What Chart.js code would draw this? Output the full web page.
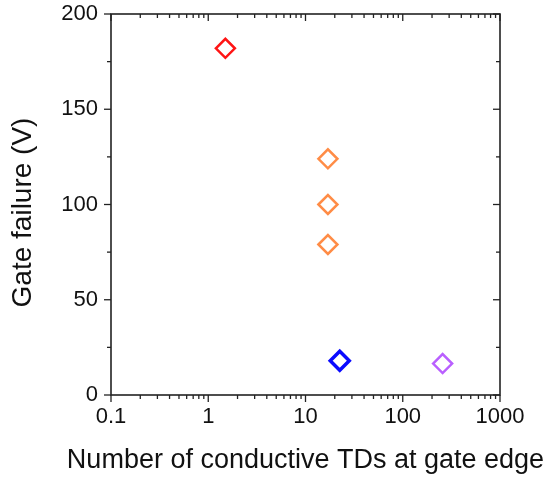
<!DOCTYPE html>
<html>
<head>
<meta charset="utf-8">
<script src="https://cdn.jsdelivr.net/npm/chart.js@4"></script>
<style>
  html, body { margin: 0; padding: 0; background: #fff; }
  #wrap { width: 544px; height: 478px; }
</style>
</head>
<body>
<div id="wrap"><canvas id="chart" width="544" height="478"></canvas></div>
<script>
// Values
const redX = [1.5];
const redY = [182];
const orangeX = [17, 17, 17];
const orangeY = [124, 100, 79];
const blueX = [22.5];
const blueY = [18];
const purpleX = [257];
const purpleY = [16.5];

// Axis ticks and titles
const xDecades = [0.1, 1, 10, 100, 1000];
const yMajorTicks = [0, 50, 100, 150, 200];
const yMinorTicks = [25, 75, 125, 175];
const xTitle = 'Number of conductive TDs at gate edge';
const yTitle = 'Gate failure (V)';

const FONT = "'Liberation Sans', Arial, sans-serif";
const INK = '#111';

// minor log ticks 2..9 inside each decade
const xMinorTicks = [];
xDecades.slice(0, -1).forEach(d => {
  for (let m = 2; m <= 9; m++) xMinorTicks.push(d * m);
});

const makeSet = (xs, ys, color, width) => ({
  data: xs.map((x, i) => ({ x, y: ys[i] })),
  pointStyle: 'rectRot',
  pointRadius: 9.5,
  pointHoverRadius: 9.5,
  borderColor: color,
  backgroundColor: 'rgba(0,0,0,0)',
  borderWidth: width,
  showLine: false
});

// frame with ticks on all four sides, plus both axis titles
// (Chart.js squeezes axis titles to the axis length, the x one is wider)
const frameTicks = {
  id: 'frameTicks',
  afterDraw(chart) {
    const { ctx, chartArea: a, scales: { x, y } } = chart;
    ctx.save();
    ctx.strokeStyle = '#222';
    ctx.lineWidth = 1.6;
    ctx.strokeRect(a.left, a.top, a.right - a.left, a.bottom - a.top);
    ctx.lineWidth = 1.3;
    const line = (x1, y1, x2, y2) => {
      ctx.beginPath();
      ctx.moveTo(x1, y1);
      ctx.lineTo(x2, y2);
      ctx.stroke();
    };
    xDecades.forEach(v => {
      const px = x.getPixelForValue(v);
      line(px, a.bottom, px, a.bottom + 7);
      line(px, a.top, px, a.top + 7);
    });
    xMinorTicks.forEach(v => {
      const px = x.getPixelForValue(v);
      line(px, a.bottom, px, a.bottom + 4);
      line(px, a.top, px, a.top + 4);
    });
    yMajorTicks.forEach(v => {
      const py = y.getPixelForValue(v);
      line(a.left - 7, py, a.left, py);
      line(a.right - 7, py, a.right, py);
    });
    yMinorTicks.forEach(v => {
      const py = y.getPixelForValue(v);
      line(a.left - 4, py, a.left, py);
      line(a.right - 4, py, a.right, py);
    });

    ctx.fillStyle = INK;
    ctx.textAlign = 'center';
    ctx.font = '27px ' + FONT;
    ctx.textBaseline = 'alphabetic';
    ctx.fillText(xTitle, (a.left + a.right) / 2, 468);

    ctx.font = '28px ' + FONT;
    ctx.textBaseline = 'middle';
    ctx.translate(23, (a.top + a.bottom) / 2 + 8);
    ctx.rotate(-Math.PI / 2);
    ctx.fillText(yTitle, 0, 0);
    ctx.restore();
  }
};

new Chart(document.getElementById('chart'), {
  type: 'scatter',
  data: {
    datasets: [
      makeSet(redX, redY, 'rgb(255,20,20)', 2.5),
      makeSet(orangeX, orangeY, 'rgb(255,140,70)', 2.5),
      makeSet(blueX, blueY, 'rgb(10,10,255)', 3.5),
      makeSet(purpleX, purpleY, 'rgb(185,95,255)', 2.5)
    ]
  },
  options: {
    responsive: false,
    animation: false,
    layout: { padding: { top: 0, right: 44, bottom: 0, left: 0 } },
    plugins: {
      legend: { display: false },
      tooltip: { enabled: false }
    },
    scales: {
      x: {
        type: 'logarithmic',
        min: 0.1,
        max: 1000,
        afterBuildTicks: s => { s.ticks = xDecades.map(v => ({ value: v })); },
        afterFit: s => { s.height = 83; },
        grid: { display: false, drawTicks: false },
        border: { display: false },
        ticks: {
          autoSkip: false,
          maxRotation: 0,
          padding: 9,
          color: INK,
          font: { family: FONT, size: 22 },
          callback: v => String(v)
        },
        title: { display: false }
      },
      y: {
        min: 0,
        max: 200,
        afterBuildTicks: s => { s.ticks = yMajorTicks.map(v => ({ value: v })); },
        afterFit: s => {
          s.width = 111;
          s.paddingTop = 14;
          s.paddingBottom = 0;
        },
        grid: { display: false, drawTicks: false },
        border: { display: false },
        ticks: {
          padding: 13,
          color: INK,
          font: { family: FONT, size: 22 }
        },
        title: { display: false }
      }
    }
  },
  plugins: [frameTicks]
});
</script>
</body>
</html>
